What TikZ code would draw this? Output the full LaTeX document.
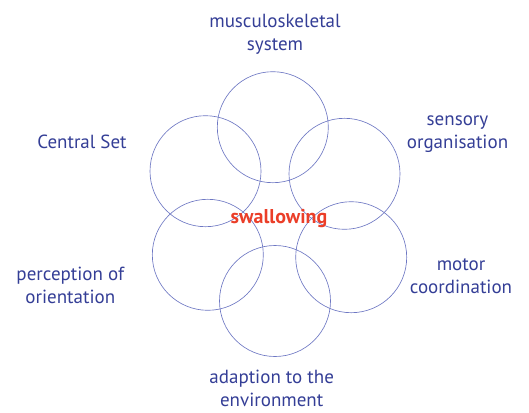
\documentclass[tikz,border=0pt]{standalone}
\usepackage{fontspec}
\setmainfont{PT Sans}
\usepackage{xcolor}
\definecolor{labelblue}{RGB}{52, 62, 150}
\definecolor{ringblue}{RGB}{110, 120, 195}
\definecolor{coreRed}{RGB}{235, 62, 40}

\begin{document}
\begin{tikzpicture}[
                x=1pt, y=-1pt,
                ring/.style={draw=ringblue, line width=0.65pt, circle,
                    minimum size=111pt, inner sep=0pt},
                lbl/.style={text=labelblue, align=center,
                    font=\fontsize{19}{23}\selectfont},
                core/.style={text=coreRed, font=\fontsize{20}{24}\selectfont\bfseries}
            ]
                \useasboundingbox (0,0) rectangle (529,412);
                \node[ring] (cmusc)  at (272.8,127.2) {};
                \node[ring] (cset)   at (205.5,171.2) {};
                \node[ring] (csens)  at (344.5,173.8) {};
                \node[ring] (cperc)  at (207.8,254.8) {};
                \node[ring] (cmotor) at (351.2,257.2) {};
                \node[ring] (cadapt) at (275.0,301.0) {};
                \node[core] (swal)   at (279,219) {swallowing};
                \node[lbl] (musc)  at (275,34)    {musculoskeletal\\system};
                \node[lbl] (sens)  at (457.5,134) {sensory\\organisation};
                \node[lbl] (cent)  at (82,141.7)  {Central Set};
                \node[lbl] (perc)  at (70.3,285)  {perception of\\orientation};
                \node[lbl] (motor) at (461,276.7) {motor\\coordination};
                \node[lbl] (adapt) at (271.7,388.5) {adaption to the\\environment};
            \end{tikzpicture}
\end{document}
